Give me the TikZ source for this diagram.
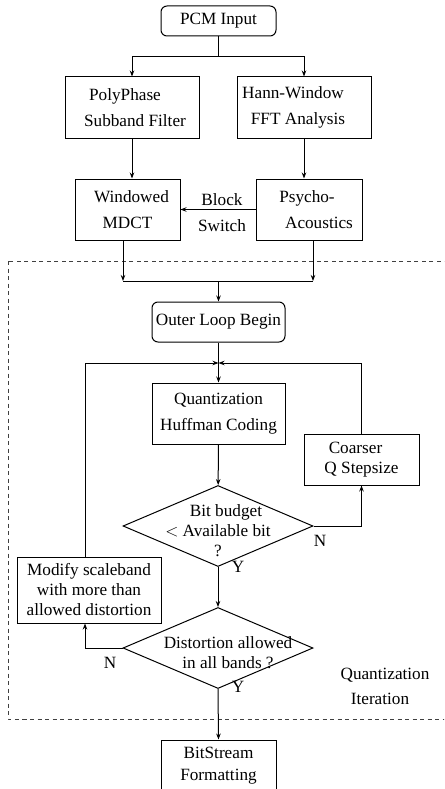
\documentclass[tikz,border=0pt]{standalone}
\usepackage{fontspec}
\setmainfont{Liberation Serif}
\usetikzlibrary{shapes.geometric,arrows.meta}
\begin{document}
\begin{tikzpicture}[x=1pt,y=-1pt,
  every node/.style={font=\fontsize{17.2}{26}\selectfont, inner sep=0pt},
  box/.style={draw, line width=1pt, align=center},
  rbox/.style={box, rounded corners=6pt},
  dia/.style={draw, line width=1pt, diamond, minimum width=190pt, minimum height=81pt},
  tight/.style={font=\fontsize{17.2}{20}\selectfont, align=center},
  lbl/.style={font=\fontsize{17.2}{20}\selectfont},
  conn/.style={line width=1pt},
  arr/.style={conn, -{Stealth[length=6pt,width=4.5pt]}},
  fence/.style={line width=0.9pt, dash pattern=on 4pt off 3.5pt, black!75}
]
\useasboundingbox (0,0) rectangle (444,789);
\clip (0,0) rectangle (444,789);

% dashed region
\draw[fence] (8,261) rectangle (460,719);

% nodes
\node[rbox, minimum width=115pt, minimum height=30pt] (pcm) at (218.5,21) {PCM Input};
\node[box, minimum width=134pt, minimum height=61pt] (poly) at (132,107.5) {PolyPhase\hspace*{14pt}\\ \hspace*{6pt}Subband Filter};
\node[box, minimum width=134pt, minimum height=61pt] (hann) at (304,107.5) {Hann-Window\hspace*{22pt}\\ FFT Analysis\hspace*{12pt}};
\node[box, minimum width=105pt, minimum height=61pt] (mdct) at (127.5,209.5) {\hspace*{8pt}Windowed\\ MDCT};
\node[box, minimum width=106pt, minimum height=61pt] (psy) at (309,209.5) {Psycho-\hspace*{4pt}\\ \hspace*{20pt}Acoustics};
\node[align=center] (bs) at (222,213) {Block\\ Switch};
\node[rbox, minimum width=133pt, minimum height=40pt] (outer) at (218.5,322) {Outer Loop Begin};
\node[box, minimum width=133pt, minimum height=61pt] (quant) at (218.5,413.5) {Quantization\\ Huffman Coding};
\node[box, tight, minimum width=115pt, minimum height=51pt] (coarser) at (361.5,459.5) {Coarser\hspace*{12pt}\\ Q Stepsize};
\node[dia] (d1) at (218,526) {};
\node[tight] (d1t) at (218,531) {\hspace*{16pt}Bit budget\\ $<$ Available bit\\ ?};
\node[box, tight, minimum width=144pt, minimum height=66pt] (modify) at (89,590) {Modify scaleband\\ with more than\\ allowed distortion};
\node[dia] (d2) at (218,648) {};
\node[tight] (d2t) at (228,653) {Distortion allowed\\ in all bands ?};
\node[box, font=\fontsize{17.2}{22}\selectfont, minimum width=115pt, minimum height=52pt] (bit) at (218.5,766) {BitStream\\ Formatting};
\node[lbl] (n1) at (320,541) {N};
\node[lbl] (y1) at (238,567) {Y};
\node[lbl] (n2) at (110,663) {N};
\node[lbl] (y2) at (238,687) {Y};
\node[align=center, font=\fontsize{17.2}{25}\selectfont] (qi) at (385,686) {Quantization\\ Iteration\hspace*{10pt}};

% connectors
\coordinate (s1) at (218.5,57);
\draw[conn] (pcm) -- (s1);
\draw[arr] (s1) -| (poly);
\draw[arr] (s1) -| (hann);
\draw[arr] (poly.south) -- (poly.south |- mdct.north);
\draw[arr] (hann.south) -- (hann.south |- psy.north);
\draw[arr] (psy.west) -- (mdct.east);

\coordinate (m1) at (123,281);
\coordinate (m2) at (313,281);
\coordinate (m0) at (218.5,281);
\draw[arr] (mdct.south -| m1) -- (m1);
\draw[arr] (psy.south -| m2) -- (m2);
\draw[conn] (m1) -- (m2);
\draw[arr] (m0) -- (outer);

\coordinate (j) at (218.5,363);
\draw[conn] (outer) -- (j);
\draw[arr] (j) -- (quant);
\draw[arr] (quant) -- (d1);
\draw[arr] (d1.east) -| (coarser.south);
\draw[arr] (coarser.north) |- (j);
\draw[arr] (d1.south) -- (d2.north);

\coordinate (c2) at (85,648);
\draw[arr] (d2.west) -- (c2) -- (c2 |- modify.south);
\draw[arr] (modify.north -| c2) |- (j);
\draw[arr] (d2.south) -- (bit.north);
\end{tikzpicture}
\end{document}
